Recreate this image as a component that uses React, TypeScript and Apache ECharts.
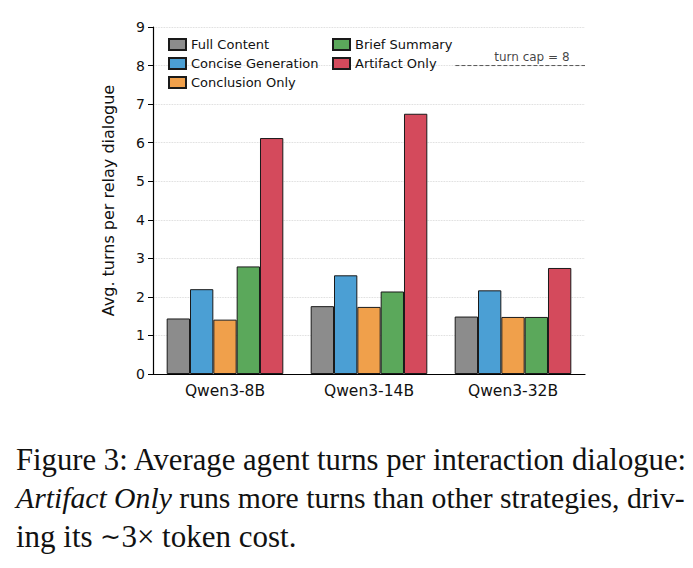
import React, { useEffect, useRef } from "react";
import * as echarts from "echarts";

const categories = ["Qwen3-8B", "Qwen3-14B", "Qwen3-32B"];
const seriesNames = ["Full Content", "Concise Generation", "Conclusion Only", "Brief Summary", "Artifact Only"];
const fullContent = [1.44, 1.76, 1.49];
const conciseGeneration = [2.2, 2.56, 2.17];
const conclusionOnly = [1.41, 1.74, 1.48];
const briefSummary = [2.79, 2.14, 1.48];
const artifactOnly = [6.12, 6.75, 2.75];
const seriesValues = [fullContent, conciseGeneration, conclusionOnly, briefSummary, artifactOnly];
const colors = ["#8c8c8c", "#4b9fd4", "#f0a04b", "#5ba85b", "#d44a5c"];
const turnCap = 8;
const capSpan = [0.7, 1.0];
const capLabelPos = 0.877;
const yTicks = { min: 0, max: 9, interval: 1 };

const FONT = "DejaVu Sans";

export default function App() {
  const ref = useRef<HTMLDivElement>(null);
  useEffect(() => {
    if (!ref.current) return;
    const chart = echarts.init(ref.current, null, { renderer: "svg" });
    const bars = seriesNames.map((name, i) => ({
      name,
      type: "bar",
      data: seriesValues[i],
      barGap: "0%",
      barCategoryGap: "19%",
      itemStyle: { color: colors[i], borderColor: "#1a1a1a", borderWidth: 1 },
      emphasis: { disabled: true },
    }));
    const legendCommon = {
      orient: "vertical",
      top: 33,
      itemWidth: 17,
      itemHeight: 11,
      itemGap: 6,
      itemTextGap: 10,
      icon: "rect",
      textStyle: { fontSize: 13, color: "#111", fontFamily: FONT },
    };
    chart.setOption({
      animation: false,
      backgroundColor: "#ffffff",
      textStyle: { fontFamily: FONT },
      grid: { left: 153, right: 108, top: 27, bottom: 194, containLabel: false },
      legend: [
        { ...legendCommon, data: seriesNames.slice(0, 3), left: 163 },
        { ...legendCommon, data: seriesNames.slice(3), left: 327 },
      ],
      xAxis: [
        {
          type: "category",
          data: categories,
          axisLine: { lineStyle: { color: "#000", width: 1.2 } },
          axisTick: { alignWithLabel: true, length: 5, lineStyle: { color: "#000" } },
          axisLabel: { fontSize: 15.5, color: "#111", margin: 9, fontFamily: FONT },
        },
        { type: "value", min: 0, max: 1, show: false },
      ],
      yAxis: {
        type: "value",
        min: yTicks.min,
        max: yTicks.max,
        interval: yTicks.interval,
        name: "Avg. turns per relay dialogue",
        nameLocation: "middle",
        nameGap: 37,
        nameTextStyle: { fontSize: 16, color: "#111", fontFamily: FONT },
        axisLine: { show: true, lineStyle: { color: "#000", width: 1.2 } },
        axisTick: { show: true, length: 5, lineStyle: { color: "#000" } },
        axisLabel: { fontSize: 14, color: "#111", margin: 8, fontFamily: FONT },
        splitLine: { show: true, lineStyle: { type: "dotted", color: "#cfcfcf", width: 0.8 } },
      },
      series: [
        ...bars,
        {
          name: "turn cap",
          type: "line",
          xAxisIndex: 1,
          data: capSpan.map((x) => [x, turnCap]),
          symbol: "none",
          lineStyle: { type: [4, 2], color: "#555", width: 1 },
          emphasis: { disabled: true },
          silent: true,
        },
        {
          name: "turn cap label",
          type: "scatter",
          xAxisIndex: 1,
          data: [[capLabelPos, turnCap]],
          symbolSize: 0,
          silent: true,
          label: {
            show: true,
            position: "top",
            distance: 3,
            formatter: "turn cap = 8",
            fontSize: 12,
            color: "#111",
            fontFamily: FONT,
          },
        },
      ],
      graphic: [
        {
          type: "text",
          left: 16,
          top: 444,
          style: {
            text: "Figure 3: Average agent turns per interaction dialogue:",
            font: "30.7px 'Liberation Serif'",
            fill: "#111",
          },
        },
        {
          type: "text",
          left: 16,
          top: 483,
          style: {
            text: "{i|Artifact Only} runs more turns than other strategies, driv-",
            font: "29.7px 'Liberation Serif'",
            fill: "#111",
            rich: {
              i: { font: "italic 29.7px 'Liberation Serif'", fill: "#111" },
            },
          },
        },
        {
          type: "text",
          left: 16,
          top: 521,
          style: {
            text: "ing its {s|∼}3× token cost.",
            font: "31px 'Liberation Serif'",
            fill: "#111",
            rich: {
              s: { font: "25px 'Liberation Serif'", fill: "#111" },
            },
          },
        },
      ],
    });
    return () => chart.dispose();
  }, []);
  return (
    <div
      ref={ref}
      style={{ position: "absolute", left: 0, top: 0, width: 693, height: 568 }}
    />
  );
}
